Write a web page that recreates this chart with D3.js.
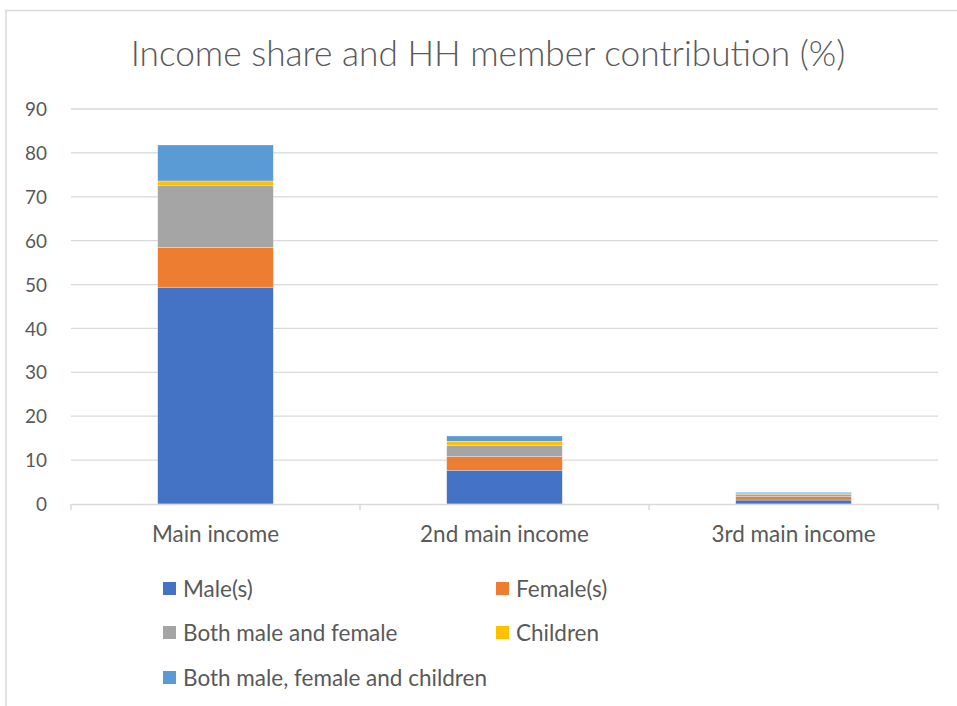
<!DOCTYPE html>
<html>
<head>
<meta charset="utf-8">
<script src="https://cdn.jsdelivr.net/npm/d3@7"></script>
<style>
  html, body { margin: 0; padding: 0; background: #fff; }
  svg { display: block; }
  text { font-family: Lato, "Open Sans", sans-serif; fill: #595959; }
</style>
</head>
<body>
<svg id="chart" width="957" height="706"></svg>
<script>
// Income categories along the x axis
const categories = ["Main income", "2nd main income", "3rd main income"];

// Household member groups (stack order, bottom to top)
const seriesNames = ["Male(s)", "Female(s)", "Both male and female", "Children", "Both male, female and children"];
const seriesColors = ["#4472C4", "#ED7D31", "#A5A5A5", "#FFC000", "#5B9BD5"];

// Share (%) per category for each group
const male      = [49.4, 7.7, 0.9];
const female    = [9.1, 3.1, 0.75];
const bothMF    = [14.0, 2.6, 0.6];
const children  = [1.1, 0.9, 0.1];
const bothAll   = [8.2, 1.2, 0.3];

const yTicks = [0, 10, 20, 30, 40, 50, 60, 70, 80, 90];
const title = "Income share and HH member contribution (%)";

const seriesValues = [male, female, bothMF, children, bothAll];
const rows = categories.map((c, i) => {
  const r = { category: c };
  seriesNames.forEach((s, k) => { r[s] = seriesValues[k][i]; });
  return r;
});

const svg = d3.select("#chart");

// scale a text element's font size so it spans the wanted width
function fitSize(sel, sample, width) {
  const base = 20;
  const probe = svg.append("text").attr("font-size", base).text(sample);
  const w = probe.node().getComputedTextLength();
  probe.remove();
  return base * width / w;
}

// chart frame
svg.append("path")
  .attr("d", "M6,706 V10.5 H957")
  .attr("fill", "none")
  .attr("stroke", "#D9D9D9")
  .attr("stroke-width", 1.5);

const plot = { left: 71, right: 938, top: 109, bottom: 504 };

const x = d3.scaleBand().domain(categories).range([plot.left, plot.right]).paddingInner(0.6).paddingOuter(0.3);
const xBand = d3.scaleBand().domain(categories).range([plot.left, plot.right]);
const y = d3.scaleLinear().domain([0, 90]).range([plot.bottom, plot.top]);

// gridlines
svg.append("g")
  .selectAll("line")
  .data(yTicks.filter(t => t > 0))
  .join("line")
  .attr("x1", plot.left).attr("x2", plot.right)
  .attr("y1", d => y(d)).attr("y2", d => y(d))
  .attr("stroke", "#D9D9D9").attr("stroke-width", 1.3);

// y axis labels
const yFont = fitSize(null, "90", 22);
const yAxis = svg.append("g")
  .attr("transform", `translate(${plot.left - 24},0)`)
  .call(d3.axisLeft(y).tickValues(yTicks).tickSize(0).tickPadding(0));
yAxis.select(".domain").remove();
yAxis.selectAll("text")
  .attr("font-size", yFont)
  .attr("font-family", "Lato, sans-serif")
  .attr("fill", "#595959")
  .attr("dy", "0.35em");

// stacked bars
const stack = d3.stack().keys(seriesNames)(rows);
svg.append("g")
  .selectAll("g")
  .data(stack)
  .join("g")
  .attr("fill", (d, i) => seriesColors[i])
  .selectAll("rect")
  .data(d => d)
  .join("rect")
  .attr("x", d => x(d.data.category))
  .attr("width", x.bandwidth())
  .attr("y", d => y(d[1]))
  .attr("height", d => y(d[0]) - y(d[1]))
  .attr("stroke", "#fff")
  .attr("stroke-width", 0.5)
  .attr("stroke-opacity", 0.6);

// x axis
const xFont = fitSize(null, "2nd main income", 169);
const xAxis = svg.append("g")
  .attr("transform", `translate(0,${plot.bottom})`)
  .call(d3.axisBottom(xBand).tickSize(0).tickPadding(22));
xAxis.select(".domain").attr("stroke", "#D9D9D9").attr("stroke-width", 1.5);
xAxis.selectAll("text")
  .attr("font-size", xFont)
  .attr("font-family", "Lato, sans-serif")
  .attr("fill", "#595959");
// category separators
const sepX = categories.map(c => xBand(c)).concat([plot.right]);
xAxis.selectAll("line.sep")
  .data(sepX)
  .join("line")
  .attr("class", "sep")
  .attr("x1", d => d).attr("x2", d => d)
  .attr("y1", 0).attr("y2", 6)
  .attr("stroke", "#D9D9D9").attr("stroke-width", 1.5);

// title
const t = svg.append("text")
  .attr("x", 488)
  .attr("y", 66)
  .attr("text-anchor", "middle")
  .attr("font-family", "Open Sans, sans-serif")
  .attr("font-weight", 300)
  .attr("font-size", 32)
  .text(title);
const tw = t.node().getComputedTextLength();
t.attr("font-size", 32 * 715 / tw);

// legend
const legendFont = fitSize(null, "Both male, female and children", 304);
const legendPos = [
  { x: 163, y: 589 }, { x: 496, y: 589 },
  { x: 163, y: 633 }, { x: 496, y: 633 },
  { x: 163, y: 678 }
];
const legend = svg.append("g")
  .selectAll("g")
  .data(seriesNames)
  .join("g")
  .attr("transform", (d, i) => `translate(${legendPos[i].x},${legendPos[i].y})`);
legend.append("rect")
  .attr("x", 0).attr("y", -7)
  .attr("width", 13).attr("height", 13)
  .attr("fill", (d, i) => seriesColors[i]);
legend.append("text")
  .attr("x", 20).attr("y", 0)
  .attr("dy", "0.35em")
  .attr("font-size", legendFont)
  .text(d => d);
</script>
</body>
</html>
